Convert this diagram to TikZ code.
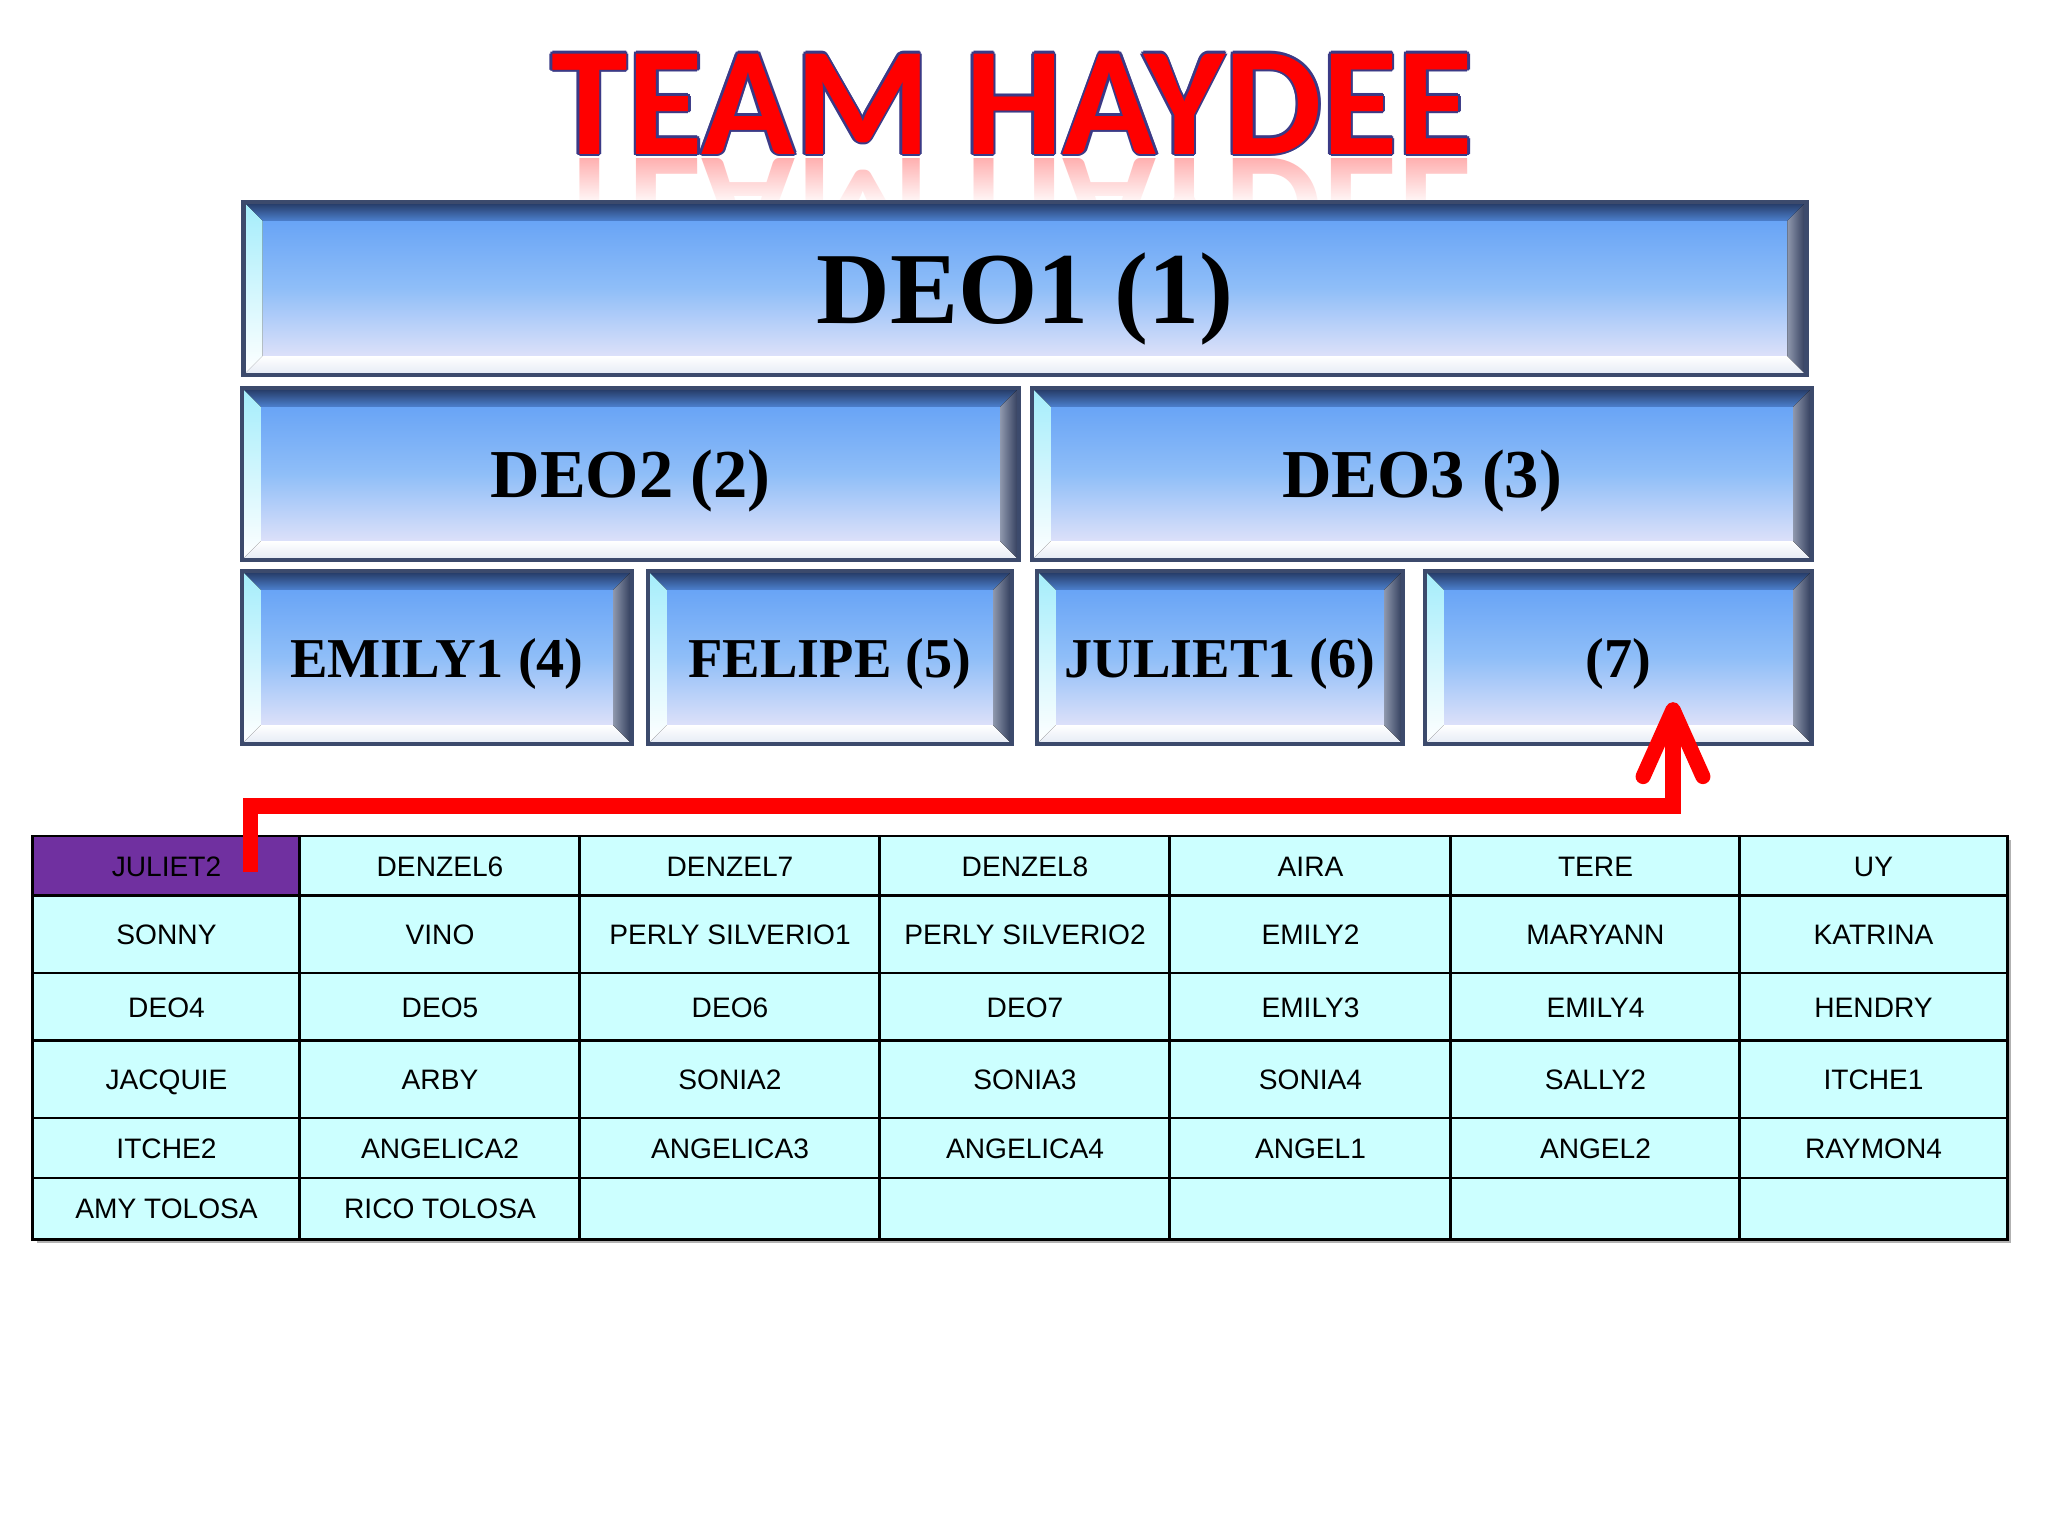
\documentclass[tikz,border=0pt]{standalone}
\usepackage{fontspec}
\setmainfont{Liberation Serif}
\setsansfont{Liberation Sans}
\newfontfamily\titlefont{Carlito}
\usetikzlibrary{arrows.meta,fadings}
\definecolor{titlered}{HTML}{FF0000}
\definecolor{titleline}{HTML}{3B3A86}
\definecolor{tierline}{HTML}{3C4A6C}
\definecolor{facetop}{HTML}{5E9DF5}
\definecolor{facemid}{HTML}{8FBEF8}
\definecolor{facebot}{HTML}{F2EAFA}
\definecolor{bevdark}{HTML}{23365F}
\definecolor{bevblue}{HTML}{4C80CE}
\definecolor{bevcyan}{HTML}{A4EDFB}
\definecolor{bevwhite}{HTML}{E4EAF4}
\definecolor{bevslate}{HTML}{8E97AC}
\definecolor{bevnavy}{HTML}{2C3858}
\definecolor{cellcyan}{HTML}{CCFFFF}
\definecolor{julietcell}{HTML}{7030A0}
\newcommand\bev{5.4pt}
\tikzset{%
  tier/.style   = {rectangle, draw=tierline, line width=1.2pt, inner sep=0pt, text depth=0pt,%
                   top color=facetop, bottom color=facebot, middle color=facemid,%
                   path picture={%
                     \path (path picture bounding box.north west) coordinate (pp-nw)
                           (path picture bounding box.north east) coordinate (pp-ne)
                           (path picture bounding box.south west) coordinate (pp-sw)
                           (path picture bounding box.south east) coordinate (pp-se);
                     \fill[top color=bevdark, bottom color=bevblue] (pp-nw) -- (pp-ne)
                       -- ([shift={(-\bev,-\bev)}]pp-ne) -- ([shift={(\bev,-\bev)}]pp-nw) -- cycle;
                     \fill[top color=bevcyan, bottom color=white] (pp-nw) -- ([shift={(\bev,-\bev)}]pp-nw)
                       -- ([shift={(\bev,\bev)}]pp-sw) -- (pp-sw) -- cycle;
                     \fill[top color=white, bottom color=bevwhite] (pp-sw) -- ([shift={(\bev,\bev)}]pp-sw)
                       -- ([shift={(-\bev,\bev)}]pp-se) -- (pp-se) -- cycle;
                     \fill[left color=bevslate, right color=bevnavy] (pp-se) -- ([shift={(-\bev,\bev)}]pp-se)
                       -- ([shift={(-\bev,-\bev)}]pp-ne) -- (pp-ne) -- cycle;
                   }},%
  head/.style   = {tier, font=\bfseries\fontsize{29}{34}\selectfont},%
  lead/.style   = {tier, font=\bfseries\fontsize{19.5}{23}\selectfont},%
  member/.style = {tier, font=\bfseries\fontsize{16}{19}\selectfont},%
  title/.style  = {font=\titlefont\bfseries\fontsize{44}{50}\selectfont, inner sep=0pt, anchor=base},%
  cell/.style   = {rectangle, draw=black, line width=0.85pt, inner sep=0pt,%
                   text height=5.8pt, text depth=0pt,%
                   font=\sffamily\fontsize{8}{9.6}\selectfont},%
  flow/.style   = {draw=titlered, line width=4.3pt, -{Straight Barb[length=19pt,width=17pt,round]}}%
}
\def\colx{{33,300,580,880,1170,1451,1740,2007}}
\def\rowy{{836,896,973,1041,1118,1178,1239}}

\begin{document}
\begin{tikzpicture}[x=0.01cm,y=0.01cm]
\fill[white] (0,0) rectangle (2048,-1536);
\useasboundingbox (0,0) rectangle (2048,-1536);
% title and its reflection
\node[title, text=red!32, yscale=-1, transform shape] (echo) at (1012,-158) {TEAM HAYDEE};
\fill[white, path fading=north] (500,-156) rectangle (1520,-206);
\foreach \a in {0,45,...,315}
  \node[title, text=titleline] (rim\a) at ([shift={(\a:2.5)}]1012,-154) {TEAM HAYDEE};
\node[title, text=titlered] (title) at (1012,-154) {TEAM HAYDEE};
% the three tiers
\node[head, minimum width=15.62cm, minimum height=1.73cm] (deo1) at (1025,-288.5) {DEO1 (1)};
\node[lead, minimum width=7.77cm, minimum height=1.72cm] (deo2) at (630.5,-474) {DEO2 (2)};
\node[lead, minimum width=7.80cm, minimum height=1.72cm] (deo3) at (1422,-474) {DEO3 (3)};
\node[member, minimum width=3.90cm, minimum height=1.73cm] (emily1) at (437,-657.5) {EMILY1 (4)};
\node[member, minimum width=3.64cm, minimum height=1.73cm] (felipe) at (830,-657.5) {FELIPE (5)};
\node[member, minimum width=3.66cm, minimum height=1.73cm] (juliet1) at (1220,-657.5) {JULIET1 (6)};
\node[member, minimum width=3.87cm, minimum height=1.73cm] (p7) at (1618.5,-657.5) {(7)};
% downline table, with its faint shadow
\fill[black!30] (37,-840) rectangle (2011,-1243);
\foreach \names [count=\ri] in {%
  {JULIET2,DENZEL6,DENZEL7,DENZEL8,AIRA,TERE,UY},%
  {SONNY,VINO,PERLY SILVERIO1,PERLY SILVERIO2,EMILY2,MARYANN,KATRINA},%
  {DEO4,DEO5,DEO6,DEO7,EMILY3,EMILY4,HENDRY},%
  {JACQUIE,ARBY,SONIA2,SONIA3,SONIA4,SALLY2,ITCHE1},%
  {ITCHE2,ANGELICA2,ANGELICA3,ANGELICA4,ANGEL1,ANGEL2,RAYMON4},%
  {AMY TOLOSA,RICO TOLOSA,{},{},{},{},{}}}{%
  \foreach \nm [count=\ci] in \names {%
    \pgfmathsetmacro\xa{\colx[\ci-1]}%
    \pgfmathsetmacro\xb{\colx[\ci]}%
    \pgfmathsetmacro\ya{\rowy[\ri-1]}%
    \pgfmathsetmacro\yb{\rowy[\ri]}%
    \pgfmathsetmacro\cellw{(\xb-\xa)*0.284527}%
    \pgfmathsetmacro\cellh{(\yb-\ya)*0.284527}%
    \ifnum\ri\ci=11 \def\cf{julietcell}\else\def\cf{cellcyan}\fi
    \node[cell, fill=\cf, minimum width=\cellw pt, minimum height=\cellh pt]
      (r\ri-\ci) at ({(\xa+\xb)/2},{-(\ya+\yb)/2}) {\nm};
  }%
}
% JULIET2 moves up to slot (7)
\draw[flow] ([shift={(-51,-6)}]r1-1.east) -- ++(0,66) -| ([shift={(54.5,44)}]p7.south);
\end{tikzpicture}
\end{document}
